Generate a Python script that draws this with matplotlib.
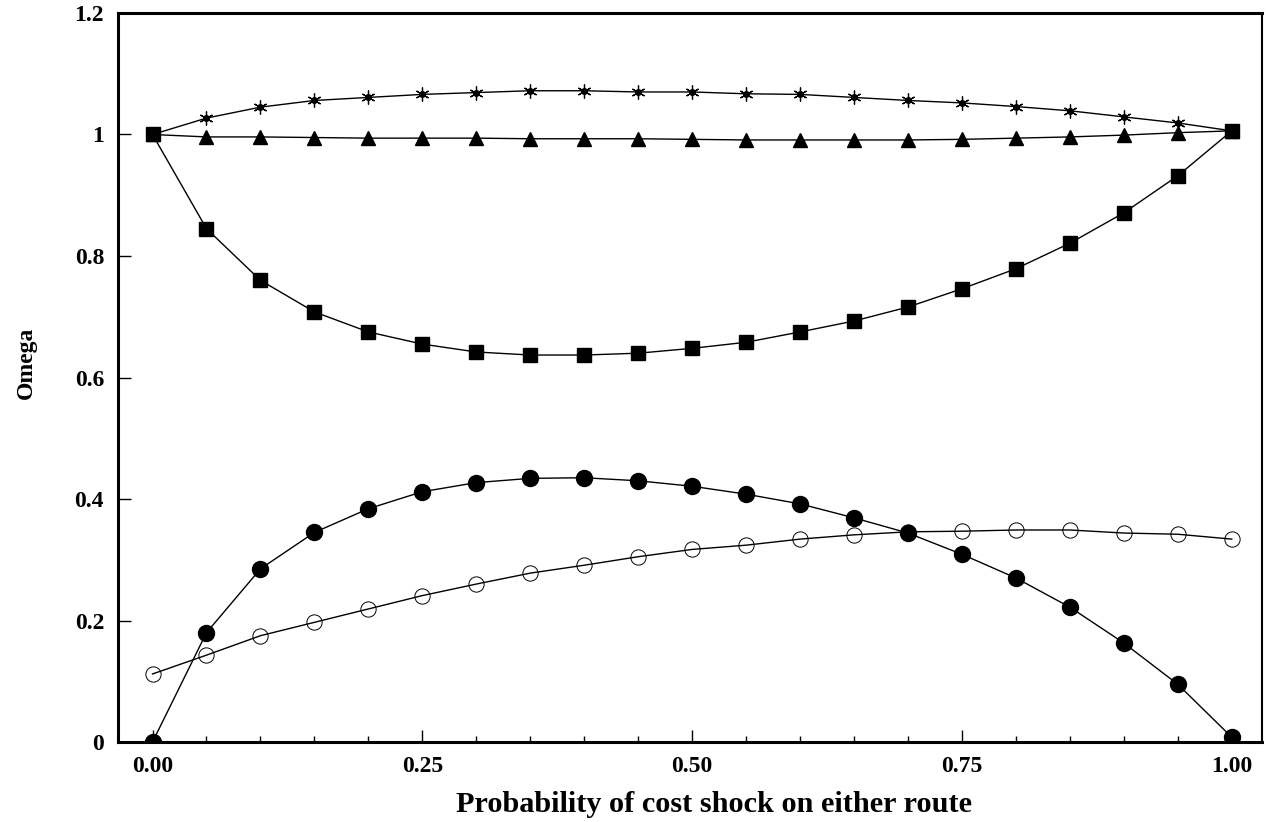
import numpy as np
import matplotlib
matplotlib.use("Agg")
import matplotlib.pyplot as plt
from matplotlib.ticker import MultipleLocator, FixedLocator

plt.rcParams['font.family'] = ['Liberation Serif', 'DejaVu Serif']

# probability of cost shock (x axis)
prob = [0.00, 0.05, 0.10, 0.15, 0.20, 0.25, 0.30, 0.35, 0.40, 0.45, 0.50,
        0.55, 0.60, 0.65, 0.70, 0.75, 0.80, 0.85, 0.90, 0.95, 1.00]

# series
stars = [1.000, 1.027, 1.045, 1.056, 1.061, 1.066, 1.069, 1.072, 1.072, 1.070, 1.070,
         1.067, 1.066, 1.061, 1.056, 1.052, 1.046, 1.039, 1.029, 1.019, 1.006]
triangles = [1.000, 0.996, 0.996, 0.995, 0.994, 0.994, 0.994, 0.993, 0.993, 0.993, 0.992,
             0.991, 0.991, 0.991, 0.991, 0.992, 0.994, 0.996, 0.999, 1.003, 1.006]
squares = [1.000, 0.845, 0.760, 0.708, 0.675, 0.655, 0.642, 0.637, 0.637, 0.640, 0.648,
           0.658, 0.675, 0.693, 0.716, 0.746, 0.779, 0.821, 0.871, 0.932, 1.006]
filled = [0.000, 0.180, 0.285, 0.345, 0.384, 0.412, 0.427, 0.434, 0.435, 0.430, 0.421,
          0.408, 0.392, 0.369, 0.344, 0.309, 0.270, 0.222, 0.163, 0.095, 0.008]
hollow = [0.112, 0.143, 0.175, 0.197, 0.219, 0.241, 0.260, 0.278, 0.291, 0.305, 0.317,
          0.324, 0.334, 0.341, 0.346, 0.347, 0.349, 0.349, 0.344, 0.342, 0.334]

fig = plt.figure(figsize=(12.66, 8.22), dpi=100)
ax = fig.add_axes([0.0932, 0.0973, 0.9036, 0.8869])

lw = 1.0
ax.plot(prob, hollow, color='black', lw=lw, marker='o', ms=11, mfc='none', mec='black', mew=0.7)
ax.plot(prob, filled, color='black', lw=lw, marker='o', ms=11.5, mfc='black', mec='black')
ax.plot(prob, squares, color='black', lw=lw, marker='s', ms=10, mfc='black', mec='black')
ax.plot(prob, triangles, color='black', lw=lw, marker='^', ms=10, mfc='black', mec='black')
ax.plot(prob, stars, color='black', lw=lw, marker=(6, 2, 0), ms=10, mec='black', mew=0.9)
ax.plot(prob, stars, ls='none', marker='o', ms=4, mfc='black', mec='black')

ax.set_xlim(-0.032, 1.028)
ax.set_ylim(0, 1.2)

ax.xaxis.set_major_locator(FixedLocator([0, 0.25, 0.5, 0.75, 1.0]))
ax.xaxis.set_minor_locator(MultipleLocator(0.05))
ax.set_xticklabels(['0.00', '0.25', '0.50', '0.75', '1.00'])
ax.set_yticks([0, 0.2, 0.4, 0.6, 0.8, 1.0, 1.2])
ax.set_yticklabels(['0', '0.2', '0.4', '0.6', '0.8', '1', '1.2'])

ax.tick_params(axis='both', which='major', direction='in', length=9, width=1,
               labelsize=17, pad=10)
ax.tick_params(axis='x', which='minor', direction='in', length=4, width=1)
for lab in ax.get_xticklabels() + ax.get_yticklabels():
    lab.set_fontweight('bold')

for side in ['left', 'bottom', 'top']:
    ax.spines[side].set_linewidth(2.2)
ax.spines['right'].set_linewidth(1.5)

ax.set_xlabel('Probability of cost shock on either route', fontsize=21.8,
              fontweight='bold')
ax.xaxis.set_label_coords(0.521, -0.067)
ax.set_ylabel('Omega', fontsize=17, fontweight='bold')
ax.yaxis.set_label_coords(-0.071, 0.52)

fig.savefig('out.png', dpi=100)
